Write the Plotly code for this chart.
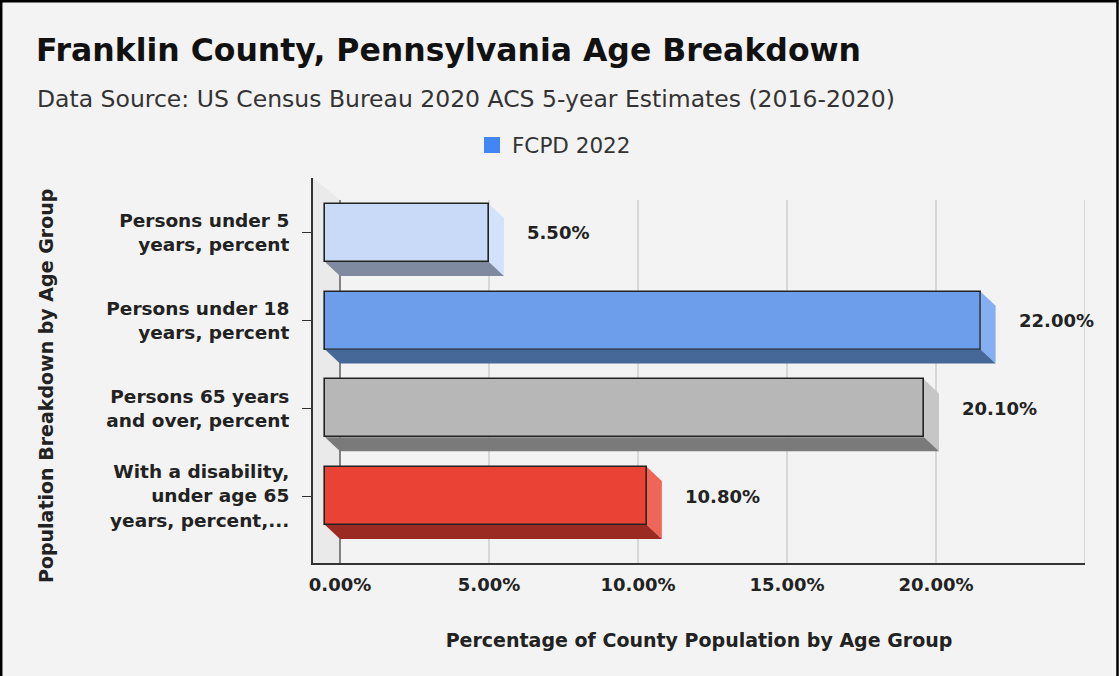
import plotly.graph_objects as go

# ---- data ----
categories = [
    "Persons under 5<br>years, percent",
    "Persons under 18<br>years, percent",
    "Persons 65 years<br>and over, percent",
    "With a disability,<br>under age 65<br>years, percent,...",
]
values = [5.5, 22.0, 20.1, 10.8]
x_ticks = [0, 5, 10, 15, 20]
x_tick_labels = ["0.00%", "5.00%", "10.00%", "15.00%", "20.00%"]
series_name = "FCPD 2022"

# ---- styles ----
front_colors = ["#c9daf8", "#6d9eeb", "#b7b7b7", "#ea4335"]
side_colors = ["#d3e2fb", "#86aff2", "#c6c6c6", "#ef6659"]
bottom_colors = ["#7f8aa0", "#466899", "#7a7a7a", "#9b2b22"]
legend_color = "#4285f4"
FONT = "DejaVu Sans, Arial, sans-serif"
TXT = "#222222"

W, H = 1119, 676
ML, MR, MT, MB = 313, 34, 178, 113
PW, PH = W - ML - MR, H - MT - MB
X_RANGE = [-0.906, 25]
Y_RANGE = [3.764, -0.627]
DX = 0.5      # depth in x (data units)
DY = 0.16     # depth in y (category units)
HALF = 0.33   # half bar thickness


def px_x(p):
    return (p - ML) / PW


def px_y(p):
    return (H - MB - p) / PH


fig = go.Figure()
pos = list(range(len(categories)))

# side faces (3D depth)
for i, v in enumerate(values):
    y = pos[i]
    fig.add_trace(go.Scatter(
        x=[v - DX, v, v, v - DX, v - DX],
        y=[y - HALF, y - HALF + DY, y + HALF + DY, y + HALF, y - HALF],
        fill="toself", fillcolor=side_colors[i], mode="lines",
        line=dict(width=0), showlegend=False, hoverinfo="skip"))
    fig.add_trace(go.Scatter(
        x=[-DX, v - DX, v, 0, -DX],
        y=[y + HALF, y + HALF, y + HALF + DY, y + HALF + DY, y + HALF],
        fill="toself", fillcolor=bottom_colors[i], mode="lines",
        line=dict(width=0), showlegend=False, hoverinfo="skip"))

# front faces
fig.add_trace(go.Bar(
    y=pos, x=values, base=[-DX] * len(values), orientation="h",
    width=2 * HALF,
    marker=dict(color=front_colors, line=dict(color="#222222", width=1.6)),
    showlegend=False, hoverinfo="skip"))

# legend entry
fig.add_trace(go.Scatter(
    x=[None], y=[None], mode="markers", name=series_name,
    marker=dict(symbol="square", size=16, color=legend_color)))

# value labels
for i, v in enumerate(values):
    fig.add_annotation(x=v, y=pos[i], text=f"<b>{v:.2f}%</b>", showarrow=False,
                       xanchor="left", xshift=21, yanchor="middle",
                       font=dict(family=FONT, size=18, color=TXT))

# left side wall of the 3D frame
x_ax = X_RANGE[0]
fig.add_shape(type="path", xref="x", yref="paper", layer="below",
              path=f"M {x_ax} 1 L 0 {px_y(200)} L 0 0 L {x_ax} 0 Z",
              fillcolor="#eaeaea", line=dict(width=0))

# gridlines (back wall)
for t in x_ticks + [25]:
    fig.add_shape(type="line", xref="x", yref="paper", x0=t, x1=t,
                  y0=0, y1=px_y(200),
                  line=dict(color="#666666" if t == 0 else "#d0d0d0", width=1.6),
                  layer="below")

# subtitle
fig.add_annotation(xref="paper", yref="paper", x=px_x(35), y=px_y(99),
                   xanchor="left", yanchor="middle", showarrow=False,
                   text="Data Source: US Census Bureau 2020 ACS 5-year Estimates (2016-2020)",
                   font=dict(family=FONT, size=23.5, color="#333333"))

# y axis title
fig.add_annotation(xref="paper", yref="paper", x=px_x(46), y=px_y(386),
                   xanchor="center", yanchor="middle", showarrow=False, textangle=-90,
                   text="<b>Population Breakdown by Age Group</b>",
                   font=dict(family=FONT, size=19, color=TXT))

# outer border
fig.add_shape(type="rect", xref="paper", yref="paper",
              x0=px_x(1.2), x1=px_x(1117.5), y0=px_y(700), y1=px_y(1.2),
              line=dict(color="black", width=2.5), fillcolor="rgba(0,0,0,0)")

fig.update_layout(
    width=W, height=H,
    margin=dict(l=ML, r=MR, t=MT, b=MB, pad=0),
    paper_bgcolor="#f3f3f3", plot_bgcolor="#f3f3f3",
    font=dict(family=FONT, size=18, color=TXT),
    title=dict(text="<b>Franklin County, Pennsylvania Age Breakdown</b>",
               xref="container", yref="container", x=36 / W, xanchor="left",
               y=1 - 50 / H, yanchor="middle",
               font=dict(family=FONT, size=31.5, color="#111111")),
    legend=dict(orientation="h", xref="container", yref="container",
                x=472 / W, xanchor="left", y=1 - 145 / H, yanchor="middle",
                bgcolor="rgba(0,0,0,0)",
                font=dict(family=FONT, size=21.5, color="#333333")),
    xaxis=dict(range=X_RANGE, tickvals=x_ticks, ticktext=[f"<b>{t}</b>" for t in x_tick_labels],
               showgrid=False, zeroline=False, showline=True, linecolor="#333333",
               linewidth=2, ticks="", ticklabelstandoff=4,
               tickfont=dict(family=FONT, size=18, color=TXT),
               title=dict(text="<b>Percentage of County Population by Age Group</b>",
                          standoff=40, font=dict(family=FONT, size=19, color=TXT))),
    yaxis=dict(range=Y_RANGE, tickvals=pos, ticktext=[f"<b>{c}</b>" for c in categories],
               showgrid=False, zeroline=False, showline=True, linecolor="#333333",
               linewidth=2, ticks="outside", ticklen=9, tickcolor="#333333",
               ticklabelstandoff=9,
               tickfont=dict(family=FONT, size=18.5, color=TXT)),
    bargap=0,
)

fig.write_html("out.html", config={"displayModeBar": False},
               post_script="document.body.style.margin='0';document.body.style.padding='0';")
